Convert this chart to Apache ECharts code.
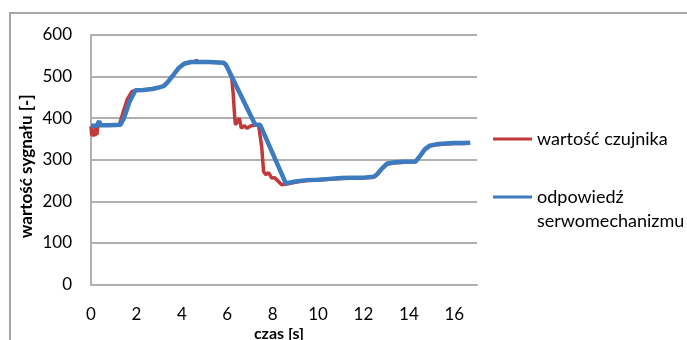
<!DOCTYPE html>
<html>
<head>
<meta charset="utf-8">
<script src="https://cdn.jsdelivr.net/npm/echarts@6/dist/echarts.min.js"></script>
<style>
  html, body { margin: 0; padding: 0; background: #fff; }
  #chart { width: 687px; height: 340px; }
</style>
</head>
<body>
<div id="chart"></div>
<script>
// Sensor reading (time in s, value)
var sensorTime = [0, 0.03, 0.06, 0.1, 0.14, 0.18, 0.22, 0.26, 0.3, 0.34, 0.4, 0.8, 1.25, 1.4, 1.6, 1.8, 1.95,
  2.3, 2.7, 3.0, 3.2, 3.35, 3.6, 3.85, 4.1, 4.4, 4.6, 4.64, 4.68, 4.8, 5.2, 5.6, 5.85, 6.0, 6.1, 6.2,
  6.26, 6.32, 6.36, 6.45, 6.53, 6.62, 6.7, 6.76, 6.87, 6.95, 7.05, 7.38, 7.45, 7.52, 7.6, 7.7, 7.82,
  7.96, 8.08, 8.25, 8.4, 8.55, 8.62, 9.0, 9.5, 10.0, 10.5, 11.0, 11.5, 12.0, 12.45, 12.6, 12.8, 13.05,
  13.4, 13.8, 14.3, 14.5, 14.7, 14.92, 15.2, 15.6, 16.0, 16.4, 16.7];
var sensorValue = [380, 358, 375, 356, 372, 357, 377, 360, 380, 383, 383, 383, 384, 412, 446, 464, 467,
  468, 470, 474, 477, 485, 502, 520, 531, 535, 535, 541, 535, 535, 535, 534, 533, 522, 510, 495,
  460, 410, 384, 392, 400, 376, 380, 382, 376, 379, 382, 384, 382, 330, 272, 264, 269,
  256, 257, 248, 240, 241, 243, 246, 250, 251, 253, 255, 256, 256, 258, 264, 277, 290,
  293, 294, 295, 309, 324, 333, 336, 338, 339, 339, 340];

// Servomechanism response (time in s, value)
var servoTime = [0, 0.25, 0.32, 0.36, 0.42, 0.8, 1.3, 1.45, 1.7, 1.96, 2.3, 2.7, 3.0, 3.2, 3.35, 3.6,
  3.85, 4.1, 4.4, 4.8, 5.2, 5.6, 5.85, 5.95, 7.23, 7.45, 8.58, 9.0, 9.5, 10.0, 10.5, 11.0, 11.5, 12.0,
  12.45, 12.6, 12.8, 13.05, 13.4, 13.8, 14.3, 14.5, 14.7, 14.92, 15.2, 15.6, 16.0, 16.4, 16.7];
var servoValue = [382, 382, 381, 393, 383, 383, 384, 400, 440, 467, 468, 470, 474, 477, 485, 502,
  520, 531, 535, 535, 535, 534, 533, 528, 384, 384, 243, 248, 251, 252, 254, 256, 257, 257,
  259, 265, 278, 291, 294, 295, 296, 310, 325, 334, 337, 339, 340, 340, 341];

var yTicks = [0, 100, 200, 300, 400, 500, 600];
var xTicks = [0, 2, 4, 6, 8, 10, 12, 14, 16];

var seriesNames = ['wartość czujnika', 'odpowiedź serwomechanizmu'];

function pairs(xs, ys) {
  return xs.map(function (x, i) { return [x, ys[i]]; });
}

var FONT = 'Lato, "Liberation Sans", sans-serif';
var GRID_COLOR = '#b0b0b0';

var chart = echarts.init(document.getElementById('chart'), null, { renderer: 'canvas' });

chart.setOption({
  animation: false,
  backgroundColor: '#fff',
  textStyle: { fontFamily: FONT },
  graphic: [{
    type: 'rect',
    z: -10,
    shape: { x: 10, y: 13, width: 700, height: 400 },
    style: { fill: 'none', stroke: '#a6a6a6', lineWidth: 2 }
  }],
  grid: {
    left: 91, top: 35, right: 210, bottom: 55.5,
    containLabel: false,
    outerBoundsMode: 'none'
  },
  legend: [{
    data: [seriesNames[0]],
    left: 493, top: 127, padding: 0,
    icon: 'rect', itemWidth: 39, itemHeight: 3,
    textStyle: { fontFamily: FONT, fontSize: 18, color: '#000', lineHeight: 24 },
    selectedMode: false
  }, {
    data: [seriesNames[1]],
    left: 493, top: 161, padding: 0,
    icon: 'rect', itemWidth: 39, itemHeight: 3,
    // blank first line keeps the icon level with the first word
    formatter: function (n) { return ' \n' + n.replace(' ', '\n'); },
    textStyle: { fontFamily: FONT, fontSize: 18, color: '#000', lineHeight: 24 },
    selectedMode: false
  }],
  xAxis: {
    type: 'value',
    min: xTicks[0], max: 17, interval: 2,
    axisLine: { show: true, lineStyle: { color: GRID_COLOR, width: 2 } },
    axisTick: { show: false },
    splitLine: { show: false },
    axisLabel: {
      margin: 22, fontSize: 17, color: '#000', fontFamily: FONT,
      showMaxLabel: false,
      formatter: function (v) { return xTicks.indexOf(v) >= 0 ? String(v) : ''; }
    },
    name: 'czas [s]',
    nameLocation: 'middle',
    nameGap: 41,
    nameMoveOverlap: false,
    nameTextStyle: { fontSize: 16, fontWeight: 'bold', color: '#000', fontFamily: FONT, padding: [0, 10, 0, 0] }
  },
  yAxis: {
    type: 'value',
    min: yTicks[0], max: yTicks[yTicks.length - 1], interval: 100,
    axisLine: { show: true, lineStyle: { color: GRID_COLOR, width: 2 } },
    axisTick: { show: false },
    splitLine: { show: true, lineStyle: { color: GRID_COLOR, width: 2 } },
    axisLabel: { margin: 19, fontSize: 17, color: '#000', fontFamily: FONT },
    name: 'wartość sygnału [-]',
    nameLocation: 'middle',
    nameGap: 56,
    nameMoveOverlap: false,
    nameTextStyle: { fontSize: 17, fontWeight: 'bold', color: '#000', fontFamily: FONT, padding: [0, 13, 0, 0] }
  },
  series: [{
    name: seriesNames[0],
    type: 'line',
    data: pairs(sensorTime, sensorValue),
    showSymbol: false,
    color: '#c0393b',
    lineStyle: { color: '#c0393b', width: 3.5 },
    z: 2
  }, {
    name: seriesNames[1],
    type: 'line',
    data: pairs(servoTime, servoValue),
    showSymbol: false,
    color: '#3d7bc0',
    lineStyle: { color: '#3d7bc0', width: 4.5 },
    z: 3
  }]
});
</script>
</body>
</html>
